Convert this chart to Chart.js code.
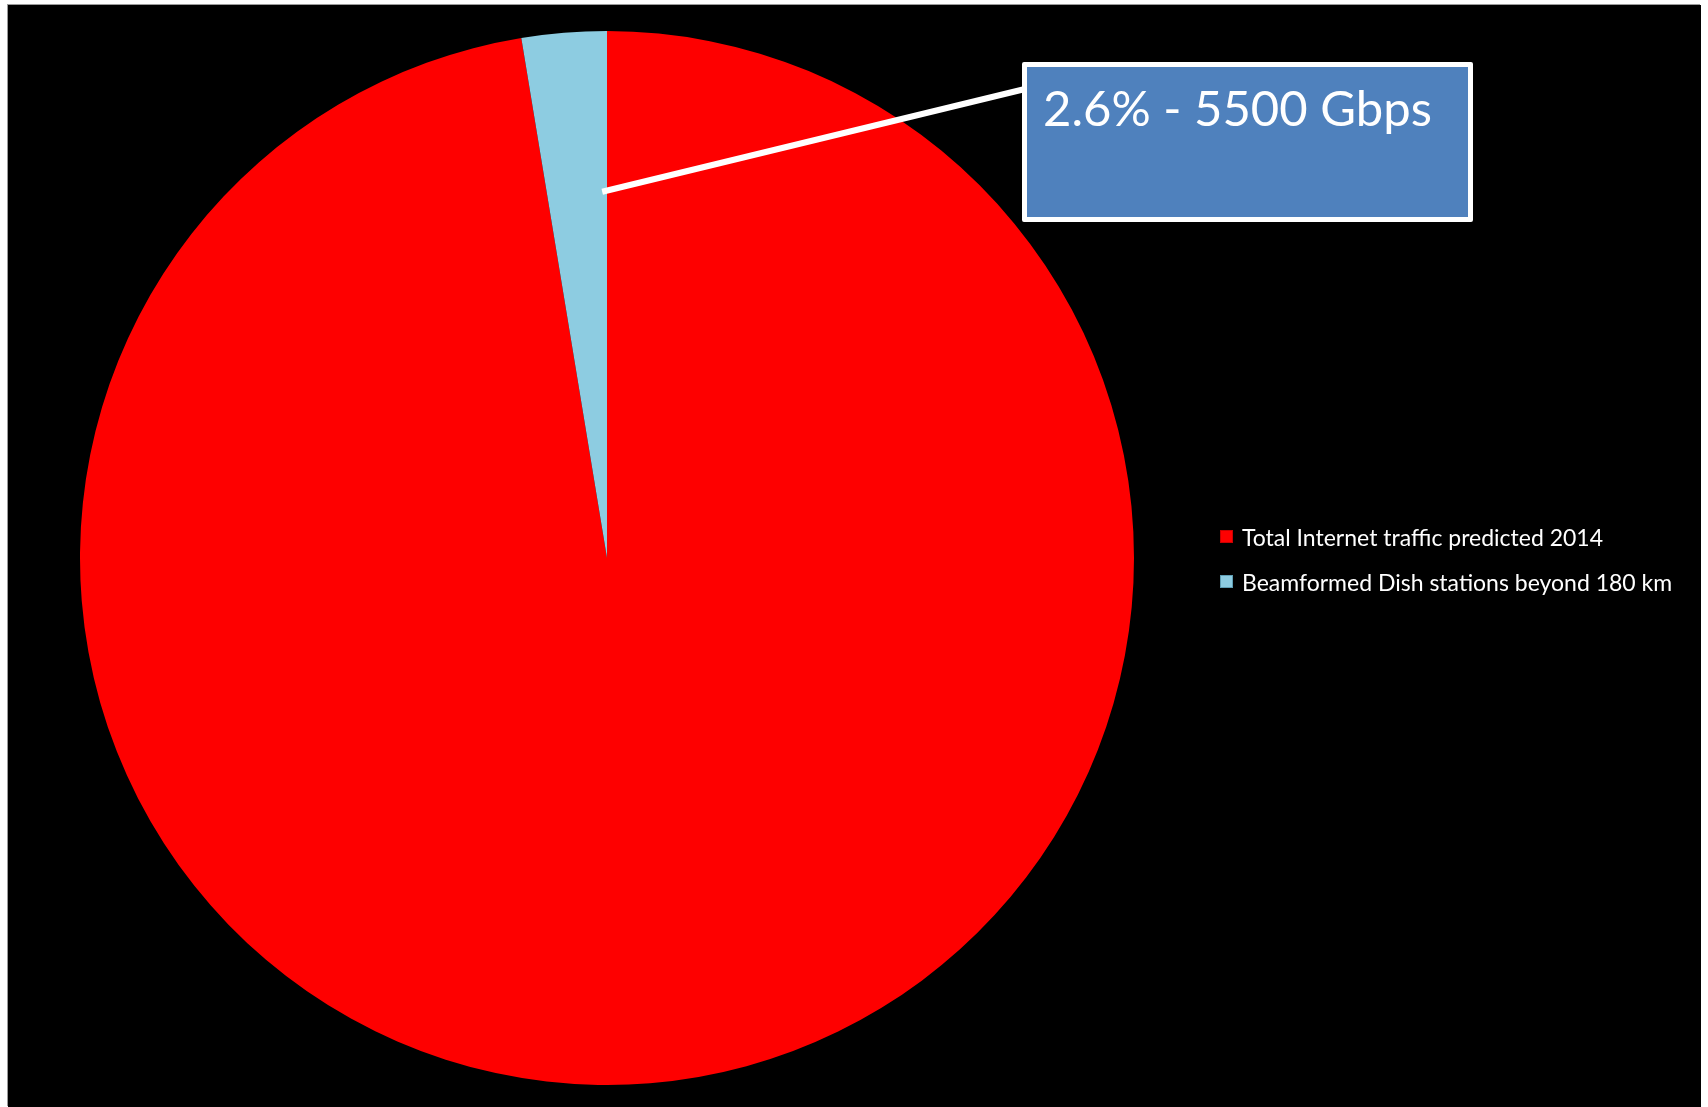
<!DOCTYPE html>
<html>
<head>
<meta charset="utf-8">
<script src="https://cdn.jsdelivr.net/npm/chart.js@4.4.0/dist/chart.umd.min.js"></script>
<style>
  html, body { margin: 0; padding: 0; background: #ffffff; width: 1708px; height: 1107px; overflow: hidden; }
  #wrap { position: absolute; left: 8px; top: 5px; width: 1693px; height: 1102px; background: #000; box-shadow: -1px -1px 0 #9a9a9a; }
  #c { position: absolute; left: 0; top: 0; }
  #callout { position: absolute; left: 1014px; top: 57px; width: 441px; height: 150px; background: #4F81BD; border: 5px solid #ffffff; border-radius: 2px; }
  #callout span { position: absolute; left: 16px; top: 16px; font-family: Lato, "Open Sans", sans-serif; font-size: 49px; color: #fff; white-space: nowrap; line-height: 1; }
  #legend { position: absolute; left: 1212px; top: 520px; font-family: Lato, "Open Sans", sans-serif; color: #fff; }
  .li { position: relative; height: 45px; }
  .sw { position: absolute; left: 0; top: 5px; width: 13px; height: 13px; box-sizing: border-box; }
  .tx { position: absolute; left: 22px; top: 0; font-size: 23px; line-height: 24px; white-space: nowrap; }
</style>
</head>
<body>
<div id="wrap">
  <canvas id="c" width="1693" height="1102"></canvas>
  <div id="callout"><span id="calloutText"></span></div>
  <div id="legend"></div>
</div>
<script>
// ---- data ----
const categories = ["Total Internet traffic predicted 2014", "Beamformed Dish stations beyond 180 km"];
const sharePercent = [97.4, 2.6];
const calloutLabel = "2.6% - 5500 Gbps";
const sliceColors = ["#FE0000", "#8DCCE1"];
const rimColors = ["#C80000", "#5E9DB3"];

document.getElementById('calloutText').textContent = calloutLabel;

function sliceFill(ctx) {
  const chart = ctx.chart;
  const i = ctx.dataIndex;
  const meta = chart.getDatasetMeta(0);
  const arc = meta.data[i];
  if (!arc || !arc.outerRadius) return sliceColors[i];
  const g = chart.ctx.createRadialGradient(arc.x, arc.y, 0, arc.x, arc.y, arc.outerRadius);
  g.addColorStop(0, sliceColors[i]);
  g.addColorStop(0.975, sliceColors[i]);
  g.addColorStop(1, rimColors[i]);
  return g;
}

const leaderLine = {
  id: 'leaderLine',
  afterDatasetsDraw(chart) {
    const arc = chart.getDatasetMeta(0).data[1];
    const span = arc.endAngle - arc.startAngle;
    const a = arc.endAngle - 0.08 * span;
    const r = 0.695 * arc.outerRadius;
    const x0 = arc.x + Math.cos(a) * r;
    const y0 = arc.y + Math.sin(a) * r;
    const box = document.getElementById('callout').getBoundingClientRect();
    const cv = chart.canvas.getBoundingClientRect();
    const x1 = box.left - cv.left + 3;
    const y1 = box.top - cv.top + 27;
    const c = chart.ctx;
    c.save();
    c.strokeStyle = '#ffffff';
    c.lineWidth = 6;
    c.lineCap = 'butt';
    c.beginPath();
    c.moveTo(x0, y0);
    c.lineTo(x1, y1);
    c.stroke();
    c.restore();
  }
};

const chart = new Chart(document.getElementById('c'), {
  type: 'pie',
  data: {
    labels: categories,
    datasets: [{
      data: sharePercent,
      backgroundColor: sliceFill,
      borderWidth: 0
    }]
  },
  options: {
    responsive: false,
    animation: false,
    layout: { padding: { left: 72, top: 26, right: 567, bottom: 22 } },
    plugins: { legend: { display: false }, tooltip: { enabled: false } }
  },
  plugins: [leaderLine]
});

// HTML legend from chart's own legend items
const legendEl = document.getElementById('legend');
const items = chart.options.plugins.legend.labels.generateLabels(chart);
items.forEach((it, i) => {
  const row = document.createElement('div');
  row.className = 'li';
  const sw = document.createElement('div');
  sw.className = 'sw';
  sw.style.background = sliceColors[i];
  sw.style.border = '1px solid ' + rimColors[i];
  const tx = document.createElement('div');
  tx.className = 'tx';
  tx.textContent = it.text;
  row.appendChild(sw);
  row.appendChild(tx);
  legendEl.appendChild(row);
});
</script>
</body>
</html>
